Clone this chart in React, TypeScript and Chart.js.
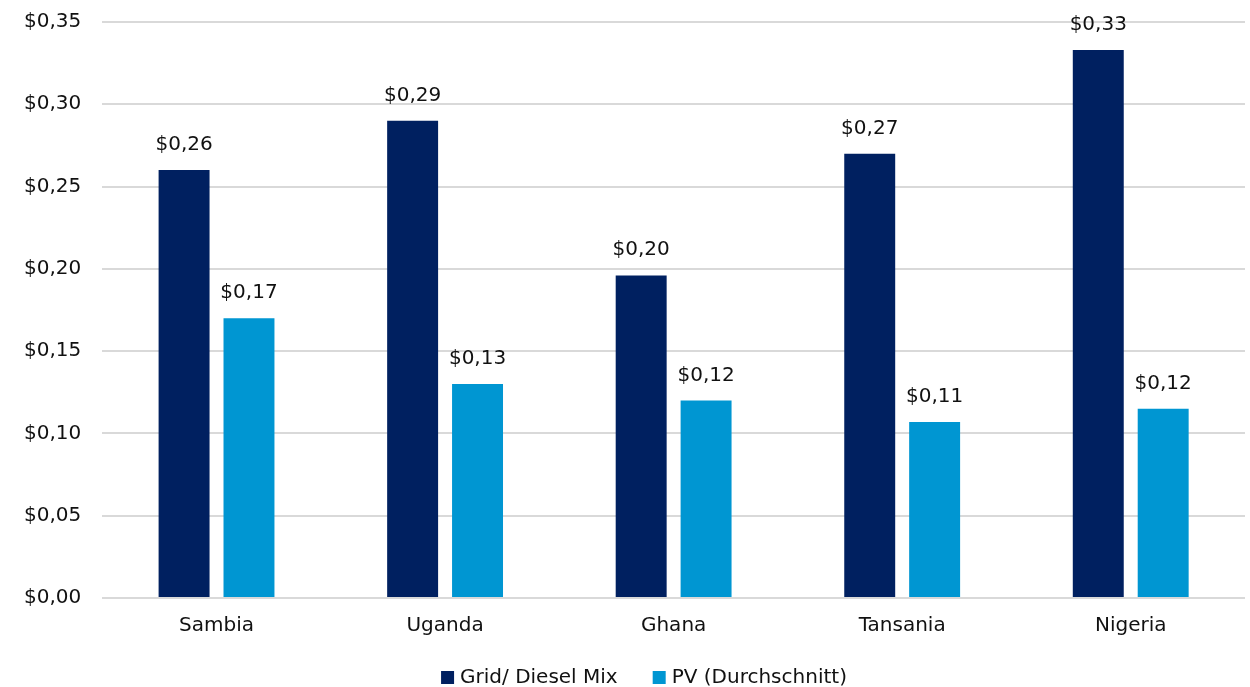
import React, { useEffect, useRef } from "react";
import { Chart, registerables } from "chart.js";

Chart.register(...registerables);

const categories = ["Sambia", "Uganda", "Ghana", "Tansania", "Nigeria"];
const gridDiesel = [0.26, 0.29, 0.196, 0.27, 0.333];
const pvAverage = [0.17, 0.13, 0.12, 0.107, 0.115];
const seriesNames = ["Grid/ Diesel Mix", "PV (Durchschnitt)"];
const seriesColors = ["#002060", "#0096D2"];

const FONT = "'DejaVu Sans'";
const FS = 20;
const fmt = (v: number) => "$" + v.toFixed(2).replace(".", ",");

const labelPlugin = {
  id: "barLabels",
  afterDatasetsDraw(chart: any) {
    const ctx = chart.ctx;
    ctx.save();
    ctx.font = `${FS}px ${FONT}`;
    ctx.fillStyle = "#111";
    ctx.textAlign = "center";
    ctx.textBaseline = "alphabetic";
    chart.data.datasets.forEach((ds: any, i: number) => {
      const meta = chart.getDatasetMeta(i);
      meta.data.forEach((bar: any, j: number) => {
        ctx.fillText(fmt(ds.data[j]), bar.x, bar.y - 20);
      });
    });
    ctx.restore();
  },
};

const legendPlugin = {
  id: "customLegend",
  afterDraw(chart: any) {
    const ctx = chart.ctx;
    ctx.save();
    ctx.font = `${FS}px ${FONT}`;
    ctx.textBaseline = "alphabetic";
    ctx.textAlign = "left";
    const box = 13;
    const boxGap = 6;
    const itemGap = 35;
    const items = chart.data.datasets.map((ds: any) => ({
      text: ds.label,
      color: ds.backgroundColor,
      w: box + boxGap + ctx.measureText(ds.label).width,
    }));
    const total = items.reduce((s: number, it: any) => s + it.w, 0) + itemGap * (items.length - 1);
    let x = 644 - total / 2;
    const baseline = chart.height - 4;
    items.forEach((it: any) => {
      ctx.fillStyle = it.color;
      ctx.fillRect(x, baseline - 12, box, box);
      ctx.fillStyle = "#111";
      ctx.fillText(it.text, x + box + boxGap, baseline);
      x += it.w + itemGap;
    });
    ctx.restore();
  },
};

export default function App() {
  const ref = useRef<HTMLCanvasElement>(null);
  useEffect(() => {
    const chart = new Chart(ref.current!, {
      type: "bar",
      data: {
        labels: categories,
        datasets: [
          { label: seriesNames[0], data: gridDiesel, backgroundColor: seriesColors[0], borderWidth: 0 },
          { label: seriesNames[1], data: pvAverage, backgroundColor: seriesColors[1], borderWidth: 0 },
        ],
      },
      options: {
        animation: false,
        responsive: true,
        maintainAspectRatio: false,
        layout: { padding: { top: 1, right: 5, left: 3, bottom: 41 } },
        datasets: { bar: { categoryPercentage: 0.568, barPercentage: 0.785 } },
        scales: {
          x: {
            grid: { display: false },
            border: { display: false },
            ticks: { color: "#111", font: { family: FONT, size: FS }, padding: 8 },
          },
          y: {
            min: 0,
            max: 0.35,
            ticks: {
              stepSize: 0.05,
              color: "#111",
              font: { family: FONT, size: FS },
              padding: 21,
              callback: (v: any) => fmt(Number(v)),
            },
            grid: { color: "#d9d9d9", lineWidth: 2, drawTicks: false },
            border: { display: false },
          },
        },
        plugins: {
          tooltip: { enabled: false },
          legend: { display: false },
        },
      },
      plugins: [labelPlugin, legendPlugin],
    });
    return () => chart.destroy();
  }, []);
  return (
    <div style={{ position: "fixed", left: 0, top: 0, width: 1250, height: 687, overflow: "hidden", background: "#fff" }}>
      <div style={{ position: "relative", marginTop: -11, width: 1250, height: 698 }}>
        <canvas ref={ref} />
      </div>
    </div>
  );
}
